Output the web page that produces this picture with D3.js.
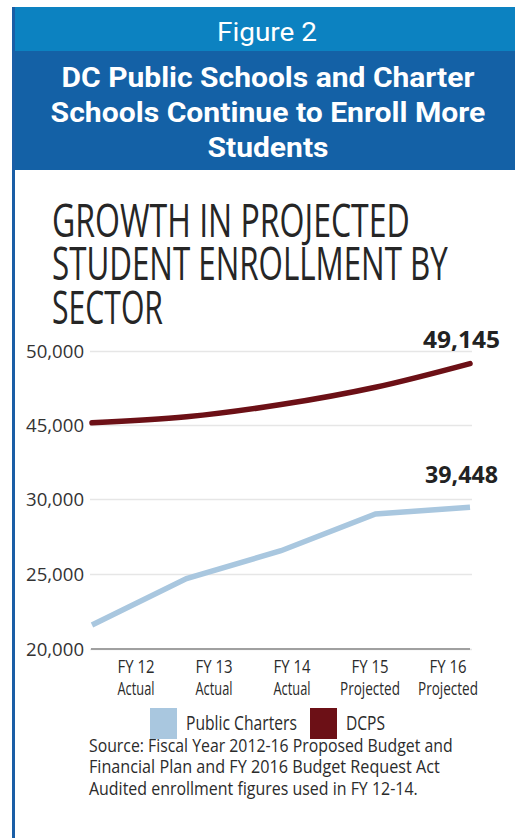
<!DOCTYPE html>
<html lang="en">
<head>
    <meta charset="UTF-8">
    <title>Figure 2 - Growth in Projected Student Enrollment by Sector</title>
    <script src="https://d3js.org/d3.v7.min.js"></script>
    <style>
      body { margin: 0; background: #fff; }
      svg text { fill: #2b2b2b; }
    </style>
</head>
<body>
<svg id="chart" width="515" height="838"></svg>
<script>
  // values (charter line is drawn on the broken axis as printed)
  const years = ["FY 12", "FY 13", "FY 14", "FY 15", "FY 16"]
  const yearNotes = ["Actual", "Actual", "Actual", "Projected", "Projected"]
  const dcps = [45150, 45550, 46380, 47550, 49150]
  const charters = [21600, 24700, 26550, 29000, 29450]
  const endLabels = ["49,145", "39,448"]
  const tickValues = [20000, 25000, 30000, 45000, 50000]
  const seriesNames = ["Public Charters", "DCPS"]
  const seriesColors = ["#a9c7df", "#6c1016"]

  const svg = d3.select("#chart")

  // squeeze a text horizontally (around its anchor x) to the printed width
  function fit(sel, widthFn) {
    sel.each(function (d, i) {
      const t = d3.select(this)
      const w = typeof widthFn === "function" ? widthFn(d, i) : widthFn
      const s = w / this.getComputedTextLength()
      const x0 = +t.attr("x") || 0
      t.attr("transform", `translate(${x0 * (1 - s)},0) scale(${s},1)`)
    })
  }

  // header bands + left rule
  svg.append("rect").attr("x", 12).attr("y", 7).attr("width", 503).attr("height", 44).attr("fill", "#0c82c1")
  svg.append("rect").attr("x", 12).attr("y", 51).attr("width", 503).attr("height", 119).attr("fill", "#1461a6")
  svg.append("rect").attr("x", 12).attr("y", 7).attr("width", 3).attr("height", 831).attr("fill", "#1a5ea6")

  svg.append("text").text("Figure 2")
    .attr("x", 267).attr("y", 41).attr("text-anchor", "middle")
    .style("font-family", "Roboto").style("font-size", "26px").style("fill", "#fff")
    .call(fit, 100)

  const headLines = ["DC Public Schools and Charter", "Schools Continue to Enroll More", "Students"]
  const headWidths = [413, 435, 121]
  svg.selectAll("text.head").data(headLines).enter().append("text")
    .attr("class", "head")
    .attr("x", 268).attr("y", (d, i) => 87 + i * 35)
    .attr("text-anchor", "middle")
    .style("font-family", "Roboto").style("font-weight", "700").style("font-size", "27px").style("fill", "#fff")
    .text(d => d)
    .call(fit, (d, i) => headWidths[i])

  // chart title, condensed to the printed widths
  const titleLines = ["GROWTH IN PROJECTED", "STUDENT ENROLLMENT BY", "SECTOR"]
  const titleWidths = [358, 396, 111]
  svg.selectAll("text.title").data(titleLines).enter().append("text")
    .attr("class", "title")
    .attr("x", 52).attr("y", (d, i) => 237 + i * 43.5)
    .style("font-family", "Open Sans").style("font-size", "46px").style("fill", "#262626")
    .text(d => d)
    .call(fit, (d, i) => titleWidths[i])

  // scales: y is a broken axis (20k-30k below, 45k-50k above)
  const x = d3.scalePoint().domain(years).range([92, 470])
  const xLabel = d3.scalePoint().domain(years).range([136, 448])
  const y = d3.scaleLinear().domain([20000, 30000, 45000, 50000]).range([649, 499, 425, 351])

  const yAxis = d3.axisLeft(y).tickValues(tickValues).tickFormat(d3.format(","))
    .tickSize(-(472 - 90)).tickPadding(6)
  const gy = svg.append("g").attr("transform", "translate(90,0)").call(yAxis)
  gy.select(".domain").remove()
  gy.selectAll(".tick line").attr("stroke", "#e6e6e6").attr("stroke-width", 1.5)
  gy.selectAll(".tick text")
    .style("font-family", "Open Sans").style("font-size", "19px").style("fill", "#333")
    .call(fit, 58)

  // baseline
  svg.append("line").attr("x1", 91).attr("x2", 470)
    .attr("y1", y(20000)).attr("y2", y(20000))
    .attr("stroke", "#a0a0a0").attr("stroke-width", 2)

  // category labels (two rows)
  const xg = svg.append("g")
  xg.selectAll("text.fy").data(years).enter().append("text")
    .attr("class", "fy")
    .attr("x", d => xLabel(d)).attr("y", 673)
    .attr("text-anchor", "middle")
    .style("font-family", "Open Sans").style("font-size", "19px").style("fill", "#2b2b2b")
    .text(d => d)
    .call(fit, 37)
  xg.selectAll("text.note").data(yearNotes).enter().append("text")
    .attr("class", "note")
    .attr("x", (d, i) => xLabel(years[i])).attr("y", 695)
    .attr("text-anchor", "middle")
    .style("font-family", "Open Sans").style("font-size", "19px").style("fill", "#2b2b2b")
    .text(d => d)
    .call(fit, d => d === "Actual" ? 37 : 60)

  // lines
  const line = d3.line().x((d, i) => x(years[i])).y(d => y(d))
  svg.append("path").datum(charters)
    .attr("d", line)
    .attr("fill", "none").attr("stroke", seriesColors[0]).attr("stroke-width", 5.5)
  svg.append("path").datum(dcps)
    .attr("d", line.curve(d3.curveMonotoneX))
    .attr("fill", "none").attr("stroke", seriesColors[1]).attr("stroke-width", 5.5)
    .attr("stroke-linecap", "round")

  // end values
  svg.append("text").text(endLabels[0])
    .attr("x", 500).attr("y", y(dcps[4]) - 16).attr("text-anchor", "end")
    .style("font-family", "Open Sans").style("font-weight", "700").style("font-size", "23px").style("fill", "#222")
    .call(fit, 77)
  svg.append("text").text(endLabels[1])
    .attr("x", 498).attr("y", y(charters[4]) - 24).attr("text-anchor", "end")
    .style("font-family", "Open Sans").style("font-weight", "700").style("font-size", "23px").style("fill", "#222")
    .call(fit, 73)

  // legend
  const legendX = [150, 310]
  const legendTextW = [111, 39]
  const lg = svg.append("g")
  lg.selectAll("rect").data(seriesNames).enter().append("rect")
    .attr("x", (d, i) => legendX[i]).attr("y", 708)
    .attr("width", 27).attr("height", 31)
    .attr("fill", (d, i) => seriesColors[i])
  lg.selectAll("text").data(seriesNames).enter().append("text")
    .attr("x", (d, i) => legendX[i] + 36).attr("y", 730)
    .style("font-family", "Open Sans").style("font-size", "20px").style("fill", "#2b2b2b")
    .text(d => d)
    .call(fit, (d, i) => legendTextW[i])

  // source note
  const sourceLines = [
    "Source: Fiscal Year 2012-16 Proposed Budget and",
    "Financial Plan and FY 2016 Budget Request Act",
    "Audited enrollment figures used in FY 12-14."
  ]
  const sourceWidths = [364, 351, 329]
  svg.selectAll("text.src").data(sourceLines).enter().append("text")
    .attr("class", "src")
    .attr("x", 89).attr("y", (d, i) => 752 + i * 21.5)
    .style("font-family", "Open Sans").style("font-size", "19px").style("fill", "#2b2b2b")
    .text(d => d)
    .call(fit, (d, i) => sourceWidths[i])
</script>
</body>
</html>
